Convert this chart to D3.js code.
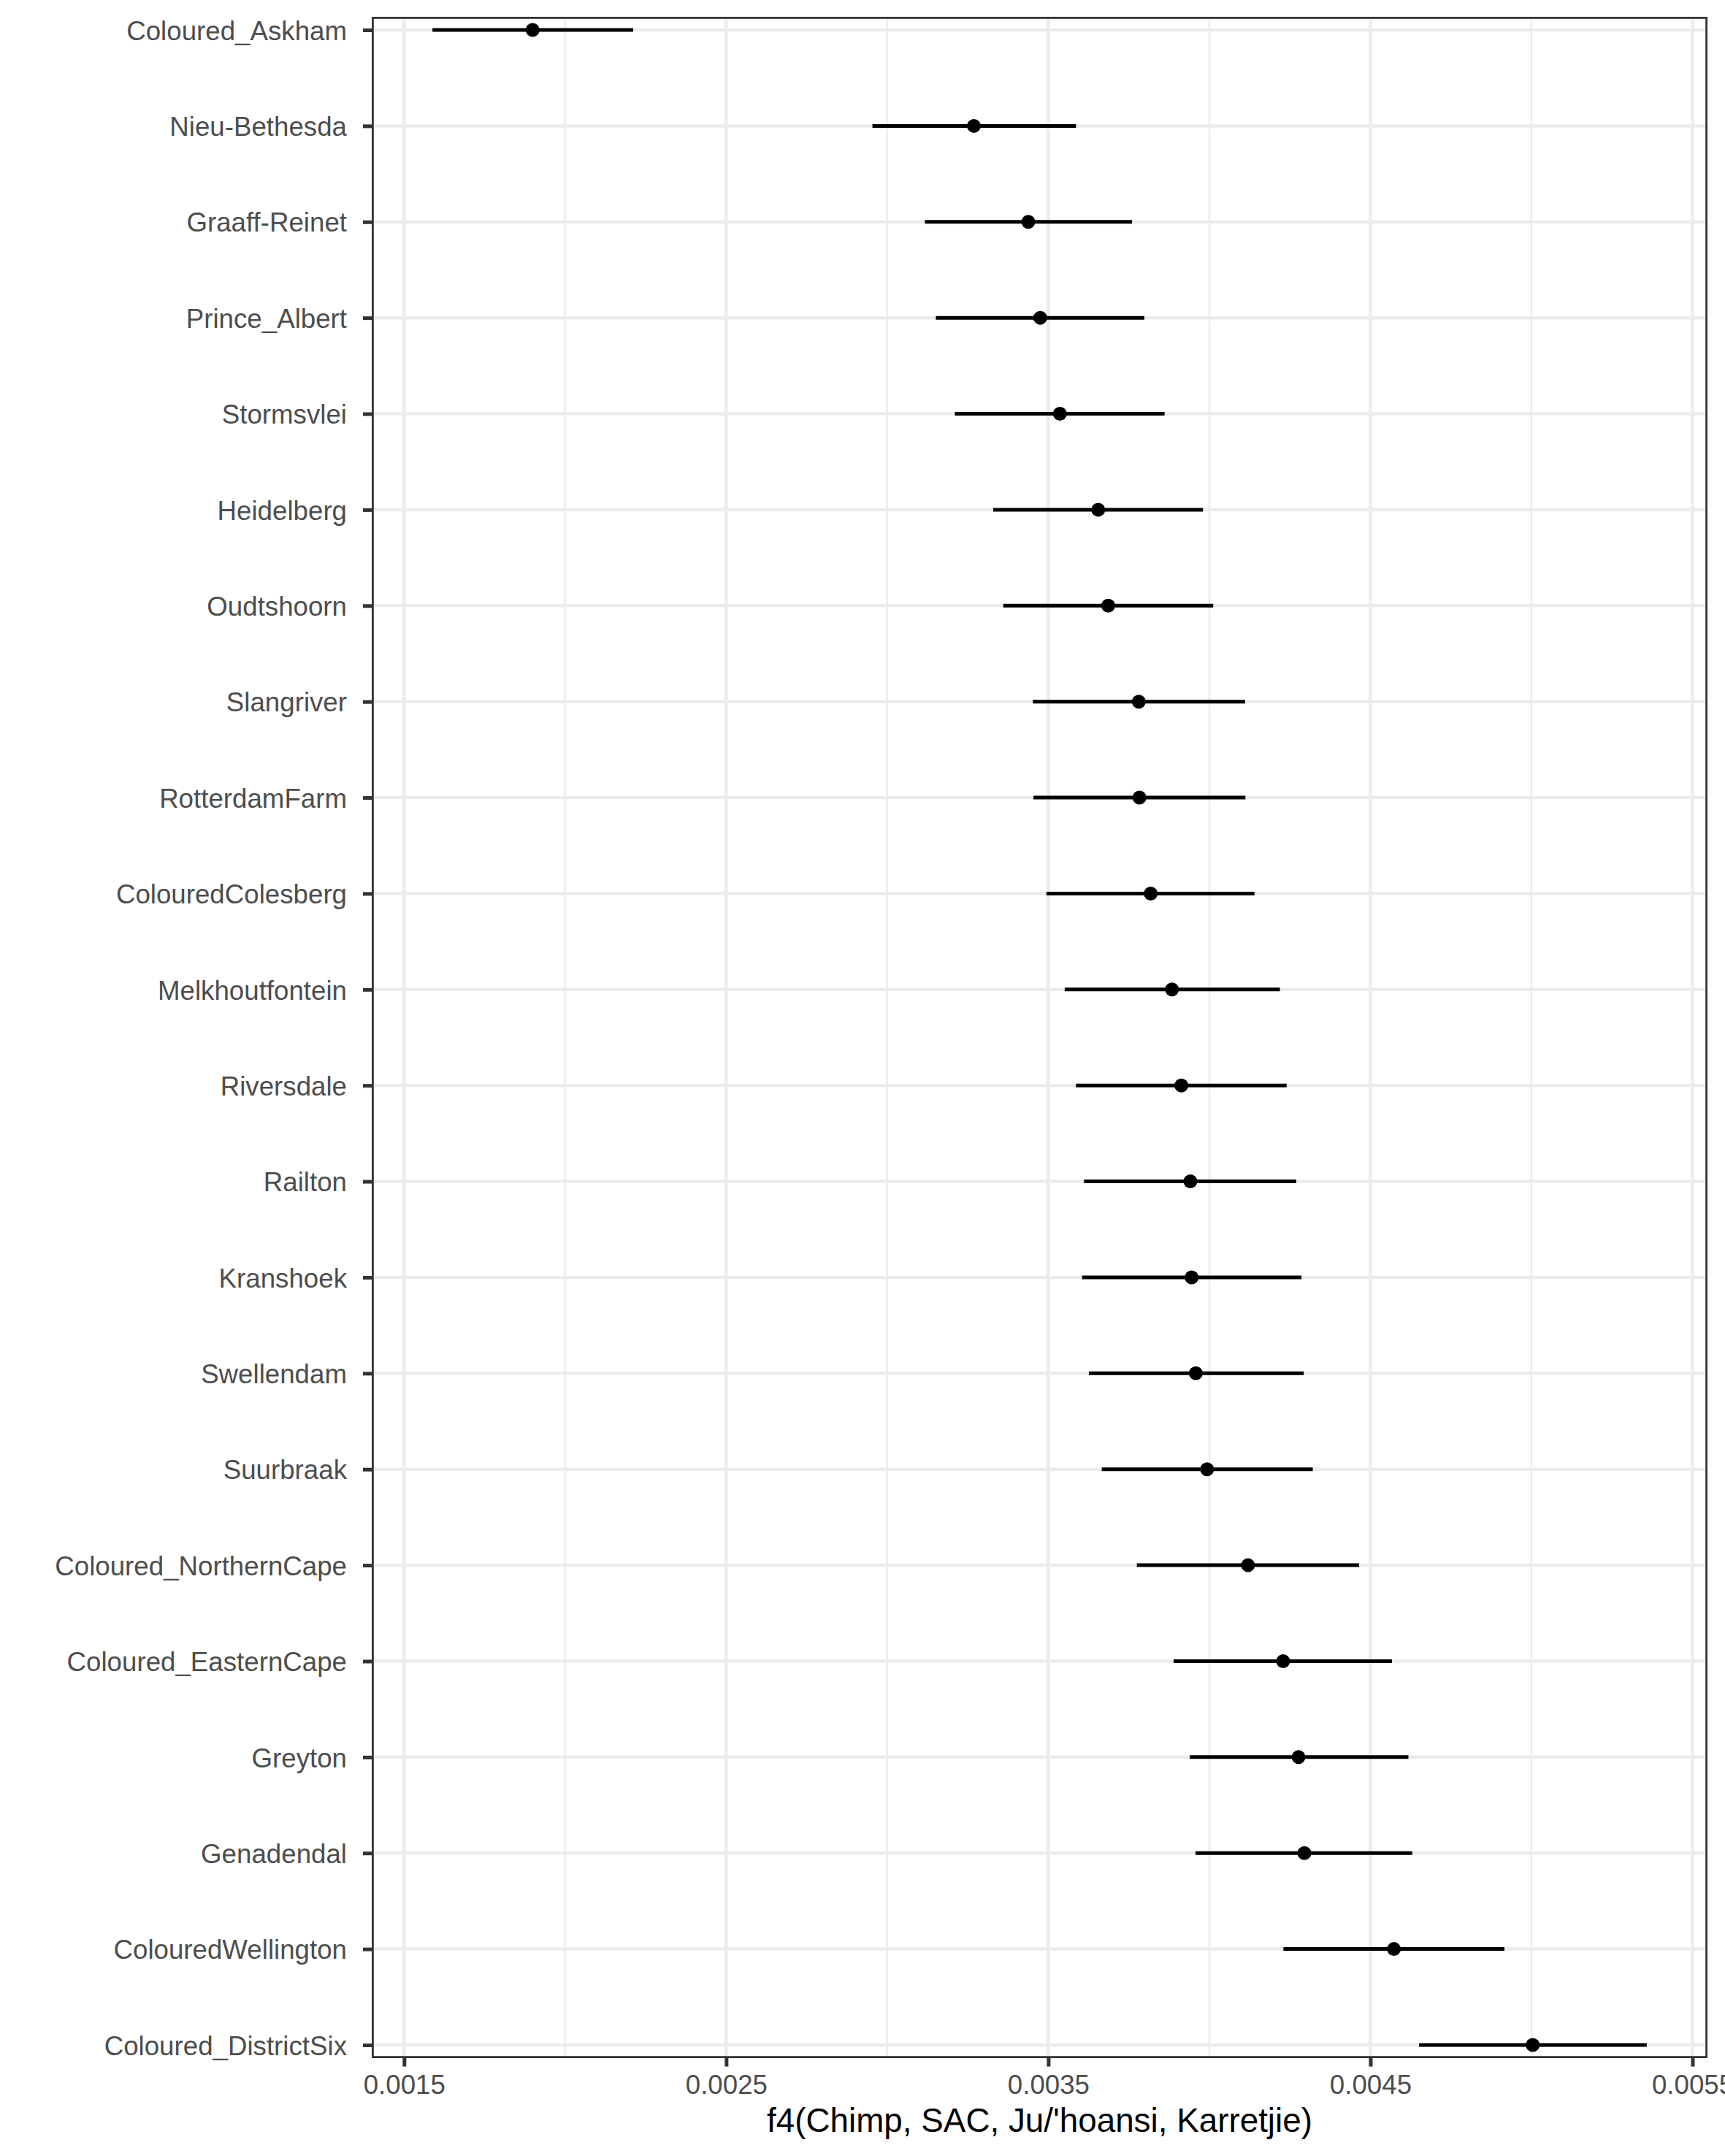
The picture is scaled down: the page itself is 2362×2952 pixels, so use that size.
<!DOCTYPE html>
<html>
<head>
<meta charset="utf-8">
<script src="https://cdn.jsdelivr.net/npm/d3@7"></script>
<style>
  body { margin: 0; background: #fff; }
  text { font-family: "Liberation Sans", Arial, sans-serif; }
</style>
</head>
<body>
<div id="chart"></div>
<script>
// populations, top to bottom
const populations = [
  "Coloured_Askham", "Nieu-Bethesda", "Graaff-Reinet", "Prince_Albert",
  "Stormsvlei", "Heidelberg", "Oudtshoorn", "Slangriver", "RotterdamFarm",
  "ColouredColesberg", "Melkhoutfontein", "Riversdale", "Railton", "Kranshoek",
  "Swellendam", "Suurbraak", "Coloured_NorthernCape", "Coloured_EasternCape",
  "Greyton", "Genadendal", "ColouredWellington", "Coloured_DistrictSix"
];
const f4Est = [
  0.001899, 0.003269, 0.003438, 0.003475, 0.003536, 0.003655, 0.003686,
  0.003781, 0.003783, 0.003818, 0.003884, 0.003913, 0.003941, 0.003945,
  0.003958, 0.003993, 0.004120, 0.004229, 0.004277, 0.004295, 0.004573, 0.005004
];
const f4Lower = [
  0.001588, 0.002954, 0.003117, 0.003151, 0.003210, 0.003329, 0.003360,
  0.003452, 0.003454, 0.003494, 0.003551, 0.003586, 0.003611, 0.003605,
  0.003626, 0.003666, 0.003775, 0.003889, 0.003939, 0.003957, 0.004230, 0.004651
];
const f4Upper = [
  0.002211, 0.003586, 0.003760, 0.003798, 0.003861, 0.003980, 0.004012,
  0.004111, 0.004112, 0.004140, 0.004219, 0.004240, 0.004270, 0.004286,
  0.004293, 0.004321, 0.004465, 0.004567, 0.004618, 0.004630, 0.004916, 0.005358
];
const xTickLabels = ["0.0015", "0.0025", "0.0035", "0.0045", "0.0055"];
const xMinorTicks = [0.002, 0.003, 0.004, 0.005];
const xTitle = "f4(Chimp, SAC, Ju/'hoansi, Karretjie)";

const data = populations.map((p, i) => ({
  pop: p, est: f4Est[i], lo: f4Lower[i], hi: f4Upper[i]
}));

const W = 2362, H = 2952;
const panel = { left: 509, right: 2338, top: 23, bottom: 2818 };

const svg = d3.select("#chart")
  .append("svg")
  .attr("width", W)
  .attr("height", H)
  .style("background", "#fff");

// x scale with ggplot-like 5% expansion
const lo = d3.min(data, d => d.lo), hi = d3.max(data, d => d.hi);
const pad = (hi - lo) * 0.05;
const x = d3.scaleLinear()
  .domain([lo - pad, hi + pad])
  .range([panel.left, panel.right]);

const y = d3.scalePoint()
  .domain(populations)
  .range([41, 2800]);

const majorTicks = xTickLabels.map(Number);

// grid
const grid = svg.append("g");
grid.selectAll(".minor")
  .data(xMinorTicks)
  .enter()
  .append("line")
  .attr("x1", d => x(d)).attr("x2", d => x(d))
  .attr("y1", panel.top).attr("y2", panel.bottom)
  .attr("stroke", "#ebebeb")
  .attr("stroke-width", 2.5);
grid.selectAll(".majx")
  .data(majorTicks)
  .enter()
  .append("line")
  .attr("x1", d => x(d)).attr("x2", d => x(d))
  .attr("y1", panel.top).attr("y2", panel.bottom)
  .attr("stroke", "#ebebeb")
  .attr("stroke-width", 4.5);
grid.selectAll(".majy")
  .data(populations)
  .enter()
  .append("line")
  .attr("x1", panel.left).attr("x2", panel.right)
  .attr("y1", d => y(d)).attr("y2", d => y(d))
  .attr("stroke", "#ebebeb")
  .attr("stroke-width", 4.5);

// error bars
svg.selectAll(".bar")
  .data(data)
  .enter()
  .append("line")
  .attr("x1", d => x(d.lo))
  .attr("x2", d => x(d.hi))
  .attr("y1", d => y(d.pop))
  .attr("y2", d => y(d.pop))
  .attr("stroke", "#000")
  .attr("stroke-width", 5);

// points
svg.selectAll(".dot")
  .data(data)
  .enter()
  .append("circle")
  .attr("cx", d => x(d.est))
  .attr("cy", d => y(d.pop))
  .attr("r", 9.5)
  .attr("fill", "#000");

// panel border
svg.append("rect")
  .attr("x", panel.left + 1.4)
  .attr("y", panel.top + 1.4)
  .attr("width", panel.right - panel.left - 2.8)
  .attr("height", panel.bottom - panel.top - 2.8)
  .attr("fill", "none")
  .attr("stroke", "#333333")
  .attr("stroke-width", 2.8);

// x axis
const xAxis = svg.append("g")
  .attr("transform", `translate(0,${panel.bottom})`)
  .call(d3.axisBottom(x).tickValues(majorTicks).tickFormat((d, i) => xTickLabels[i])
    .tickSize(11.5).tickPadding(11));
xAxis.select(".domain").remove();
xAxis.selectAll(".tick line").attr("stroke", "#333333").attr("stroke-width", 5);
xAxis.selectAll(".tick text")
  .attr("fill", "#4d4d4d")
  .style("font-size", "36.7px")
  .style("font-family", "'Liberation Sans', Arial, sans-serif");

// y axis
const yAxis = svg.append("g")
  .attr("transform", `translate(${panel.left},0)`)
  .call(d3.axisLeft(y).tickSize(12).tickPadding(22));
yAxis.select(".domain").remove();
yAxis.selectAll(".tick line").attr("stroke", "#333333").attr("stroke-width", 5);
yAxis.selectAll(".tick text")
  .attr("fill", "#4d4d4d")
  .attr("dy", "0.36em")
  .style("font-size", "36.7px")
  .style("font-family", "'Liberation Sans', Arial, sans-serif");

// x axis title
svg.append("text")
  .attr("x", (panel.left + panel.right) / 2)
  .attr("y", 2919)
  .attr("text-anchor", "middle")
  .attr("fill", "#000")
  .style("font-size", "45.8px")
  .text(xTitle);
</script>
</body>
</html>
